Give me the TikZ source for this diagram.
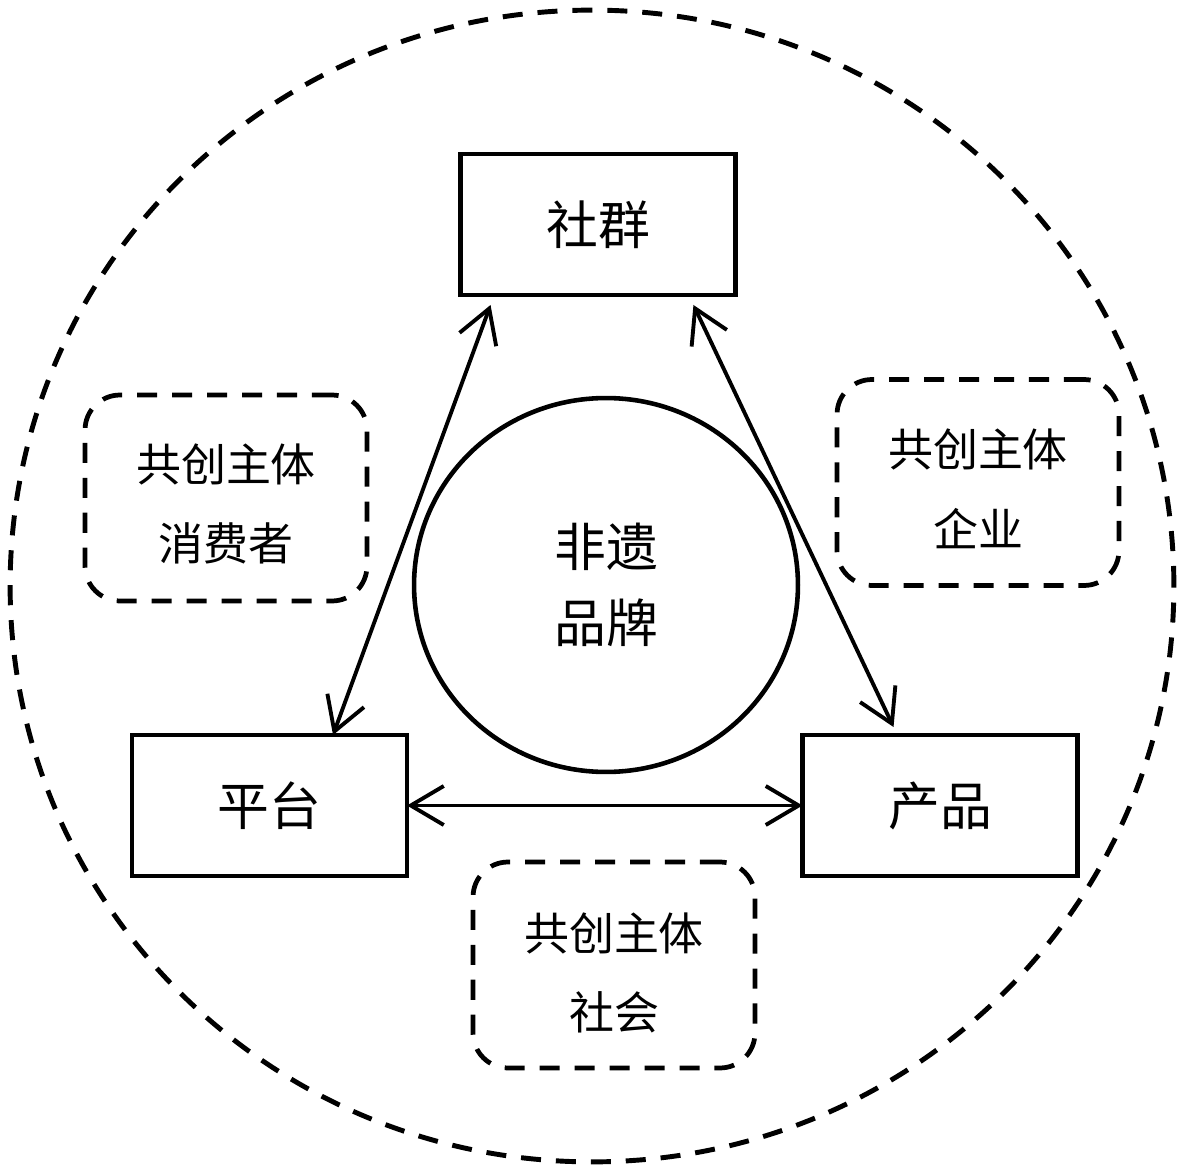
\documentclass[tikz,border=0pt]{standalone}
\usepackage{fontspec}
\newfontfamily\cjk{Noto Sans CJK SC}
\usetikzlibrary{shapes.geometric,arrows.meta,calc}
\begin{document}
\begin{tikzpicture}[x=0.02cm,y=-0.02cm,
  solidbox/.style={draw,line width=2.6pt,minimum width=5.5cm,minimum height=2.82cm,inner sep=0pt,outer sep=0pt,font=\cjk\fontsize{29.5}{36}\selectfont},
  cobox/.style={draw,line width=2.7pt,dash pattern=on 11.4pt off 8.5pt,rounded corners=0.7cm,minimum width=5.64cm,minimum height=4.12cm,inner sep=0pt},
  cotext/.style={align=center,font=\cjk\fontsize{25.6}{45.5}\selectfont},
  link/.style={line width=2.2pt,{Straight Barb[length=0.66cm,width=0.78cm,line width=2.2pt]}-{Straight Barb[length=0.66cm,width=0.78cm,line width=2.2pt]}}
]
\useasboundingbox (0,0) rectangle (1181,1172);
\node[ellipse,draw,line width=2.8pt,dash pattern=on 11.4pt off 8.5pt,minimum width=23.28cm,minimum height=23.04cm,inner sep=0pt] (outer) at (592,586) {};
\node[solidbox] (she) at (598,224.5) {社群};
\node[solidbox] (ping) at (269.5,805.5) {平台};
\node[solidbox] (chan) at (940,805.5) {产品};
\node[ellipse,draw,line width=2.6pt,minimum width=7.68cm,minimum height=7.48cm,inner sep=0pt,align=center,font=\cjk\fontsize{29.5}{43.2}\selectfont] (brand) at (606,585) {非遗\\品牌};
\node[cobox,label={[cotext,yshift=-3.4pt]center:共创主体\\消费者}] (cons) at (226,498) {};
\node[cobox,label={[cotext,yshift=-3.6pt]center:共创主体\\企业}] (ent) at (978,482.5) {};
\node[cobox,label={[cotext,yshift=-4.5pt]center:共创主体\\社会}] (soc) at (614,965) {};
\draw[link] ($(she.south west)+(30,10)$) -- ($(ping.north west)+(201,0)$);
\draw[link] ($(she.south east)+(-42,10)$) -- ($(chan.north west)+(91,-8)$);
\draw[link] (ping.east) -- (chan.west);
\end{tikzpicture}
\end{document}
